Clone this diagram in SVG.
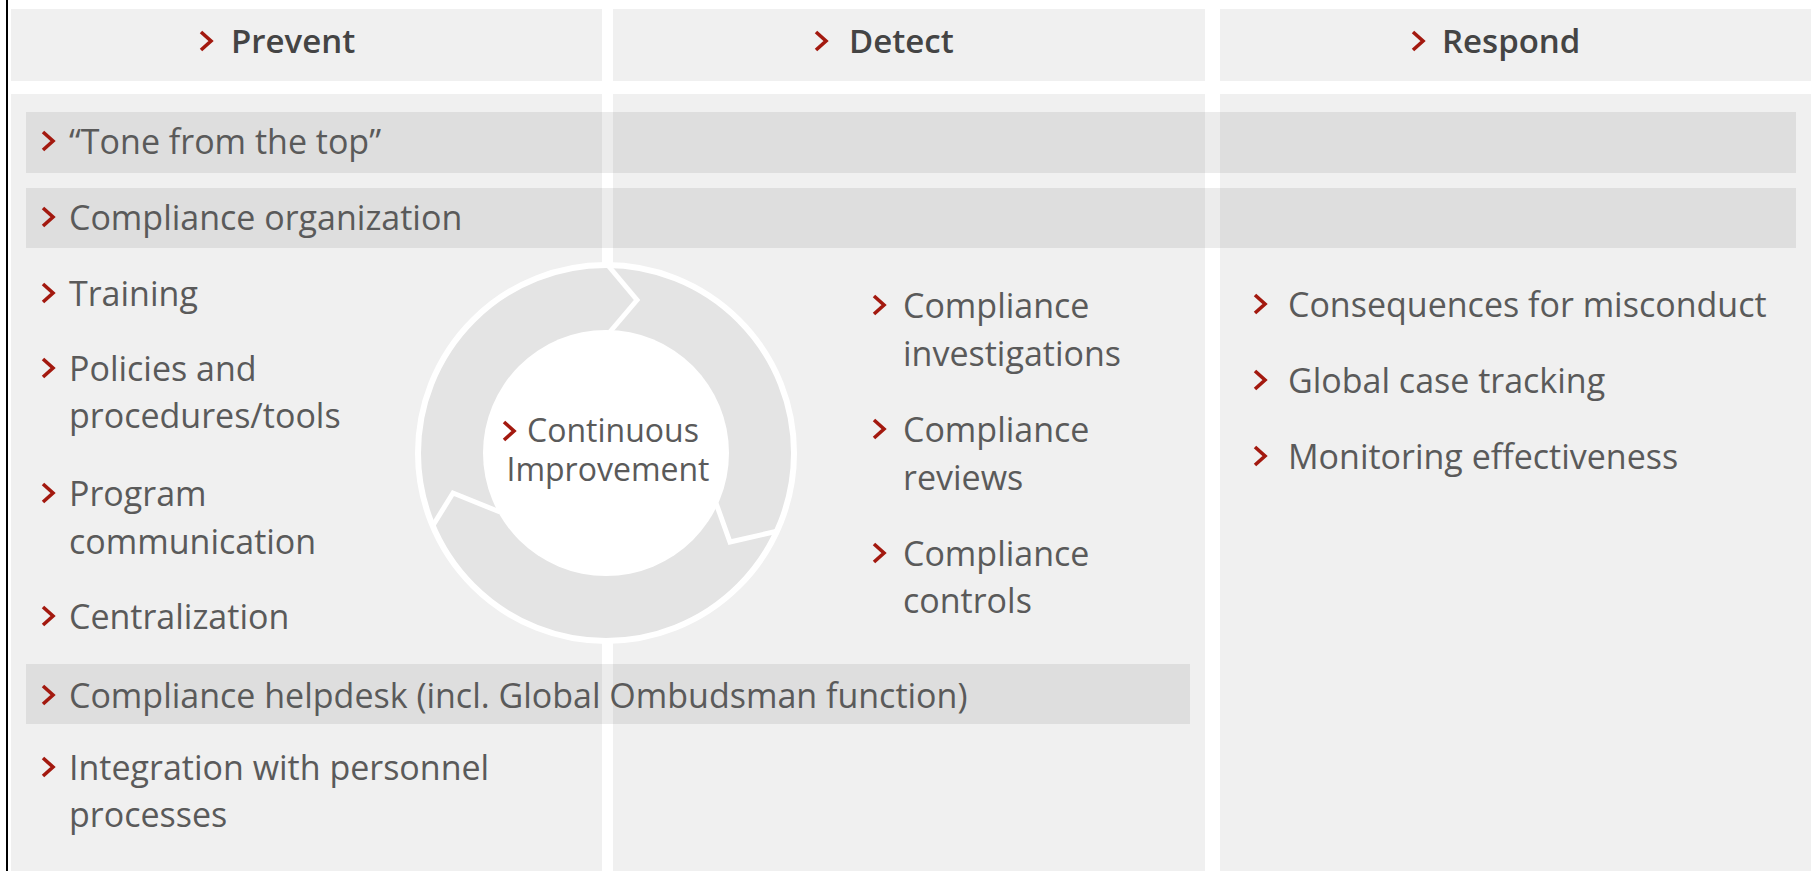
<svg xmlns="http://www.w3.org/2000/svg" xmlns:xlink="http://www.w3.org/1999/xlink" width="1811" height="871" viewBox="0 0 1811 871">
<style>
.bg{fill:#f0f0f0}
.bar{fill:#000;fill-opacity:0.075}
.hd{font-family:"Open Sans","Noto Sans",sans-serif;font-size:33px;font-weight:600;fill:#444444}
.tx{font-family:"Open Sans","Noto Sans",sans-serif;font-size:34px;fill:#5a5a5a}
.ct{font-family:"Open Sans","Noto Sans",sans-serif;font-size:32px;fill:#5a5a5a}
.gap{fill:none;stroke:#fff;stroke-width:5;stroke-linejoin:miter}
</style>
<defs>
<path id="chev" d="M-5,-9 L5,0 L-5,9" fill="none" stroke="#a3190f" stroke-width="3.6" stroke-linejoin="miter"/>
</defs>
<rect x="0" y="0" width="1811" height="871" fill="#fff"/>
<rect x="6" y="0" width="2" height="871" fill="#000"/>
<g id="columns">
<rect class="bg" x="11" y="9" width="591" height="72"/>
<rect class="bg" x="613" y="9" width="592" height="72"/>
<rect class="bg" x="1220" y="9" width="591" height="72"/>
<rect class="bg" x="11" y="94" width="591" height="777"/>
<rect class="bg" x="613" y="94" width="592" height="777"/>
<rect class="bg" x="1220" y="94" width="591" height="777"/>
</g>
<g id="header-prevent">
<use xlink:href="#chev" x="206" y="41"/>
<text class="hd" x="231" y="53">Prevent</text>
</g>
<g id="header-detect">
<use xlink:href="#chev" x="821" y="41"/>
<text class="hd" x="849" y="53">Detect</text>
</g>
<g id="header-respond">
<use xlink:href="#chev" x="1418" y="41"/>
<text class="hd" x="1442" y="53">Respond</text>
</g>
<g id="row-tone">
<rect class="bar" x="26" y="112" width="1770" height="61"/>
<use xlink:href="#chev" x="48" y="141"/>
<text class="tx" x="69" y="154">“Tone from the top”</text>
</g>
<g id="row-organization">
<rect class="bar" x="26" y="188" width="1770" height="60"/>
<use xlink:href="#chev" x="48" y="217"/>
<text class="tx" x="69" y="230">Compliance organization</text>
</g>
<g id="cycle">
<circle cx="606" cy="453" r="188" fill="#e4e4e4" stroke="#fff" stroke-width="6"/>
<circle cx="606" cy="453" r="123" fill="#fff"/>
<polyline class="gap" points="606,263 637,300 609,333"/>
<polyline class="gap" points="716,503 730,542 778,531"/>
<polyline class="gap" points="432,527 453,493 500,512"/>
<use xlink:href="#chev" x="509" y="431"/>
<text class="ct" x="527" y="442">Continuous</text>
<text class="ct" x="608" y="481" text-anchor="middle">Improvement</text>
</g>
<g id="prevent-training">
<use xlink:href="#chev" x="48" y="293"/>
<text class="tx" x="69" y="306">Training</text>
</g>
<g id="prevent-policies">
<use xlink:href="#chev" x="48" y="368"/>
<text class="tx" x="69" y="381">Policies and</text>
<text class="tx" x="69" y="428">procedures/tools</text>
</g>
<g id="prevent-program">
<use xlink:href="#chev" x="48" y="493"/>
<text class="tx" x="69" y="506">Program</text>
<text class="tx" x="69" y="554">communication</text>
</g>
<g id="prevent-centralization">
<use xlink:href="#chev" x="48" y="616"/>
<text class="tx" x="69" y="629">Centralization</text>
</g>
<g id="row-helpdesk">
<rect class="bar" x="26" y="664" width="1164" height="60"/>
<use xlink:href="#chev" x="48" y="695"/>
<text class="tx" x="69" y="708">Compliance helpdesk (incl. Global Ombudsman function)</text>
</g>
<g id="prevent-integration">
<use xlink:href="#chev" x="48" y="767"/>
<text class="tx" x="69" y="780">Integration with personnel</text>
<text class="tx" x="69" y="827">processes</text>
</g>
<g id="detect-investigations">
<use xlink:href="#chev" x="879" y="305"/>
<text class="tx" x="903" y="318">Compliance</text>
<text class="tx" x="903" y="366">investigations</text>
</g>
<g id="detect-reviews">
<use xlink:href="#chev" x="879" y="429"/>
<text class="tx" x="903" y="442">Compliance</text>
<text class="tx" x="903" y="490">reviews</text>
</g>
<g id="detect-controls">
<use xlink:href="#chev" x="879" y="553"/>
<text class="tx" x="903" y="566">Compliance</text>
<text class="tx" x="903" y="613">controls</text>
</g>
<g id="respond-consequences">
<use xlink:href="#chev" x="1260" y="304"/>
<text class="tx" x="1288" y="317">Consequences for misconduct</text>
</g>
<g id="respond-tracking">
<use xlink:href="#chev" x="1260" y="380"/>
<text class="tx" x="1288" y="393">Global case tracking</text>
</g>
<g id="respond-monitoring">
<use xlink:href="#chev" x="1260" y="456"/>
<text class="tx" x="1288" y="469">Monitoring effectiveness</text>
</g>
</svg>
